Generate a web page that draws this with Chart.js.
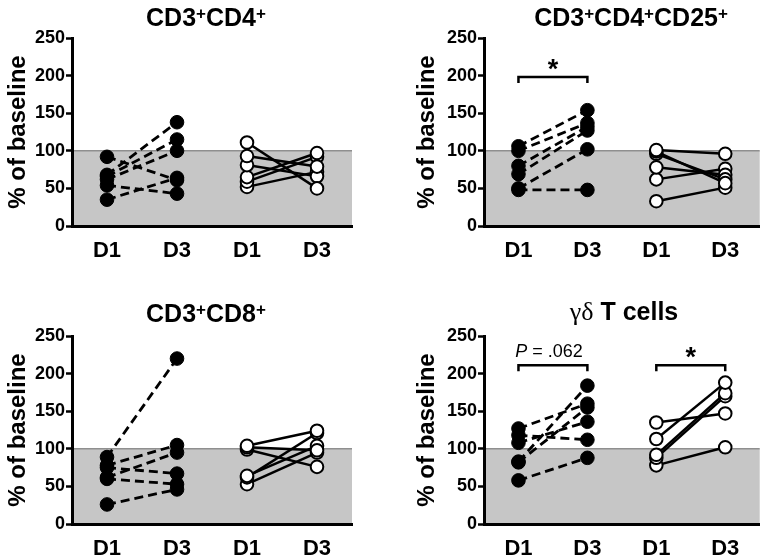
<!DOCTYPE html>
<html>
<head>
<meta charset="utf-8">
<script src="https://cdn.jsdelivr.net/npm/chart.js@4.4.1/dist/chart.umd.min.js"></script>
<style>
  html, body { margin: 0; padding: 0; background: #fff; }
  #wrap { position: relative; width: 768px; height: 559px; overflow: hidden; }
  #wrap canvas { position: absolute; }
</style>
</head>
<body>
<div id="wrap">
  <canvas id="p1" width="384" height="280"></canvas>
  <canvas id="p2" width="384" height="280"></canvas>
  <canvas id="p3" width="384" height="279"></canvas>
  <canvas id="p4" width="384" height="279"></canvas>
</div>
<script>
// ---- donnees (% of baseline, paires D1 -> D3) ----
const jours = ['D1', 'D3', 'D1', 'D3'];
const titres = ['CD3⁺CD4⁺', 'CD3⁺CD4⁺CD25⁺', 'CD3⁺CD8⁺', 'γδ T cells'];
const titreAxeY = '% of baseline';
const ticksY = [0, 50, 100, 150, 200, 250];
const ligneBase = 100;

// groupe plein (pointilles) et groupe vide (trait plein)
const cd4Plein  = [[92, 61], [68, 138], [66, 115], [62, 100], [54, 43], [35, 64]];
const cd4Vide   = [[111, 50], [93, 79], [81, 66], [65, 97], [59, 92], [52, 72]];
const cd25Plein = [[106, 154], [100, 137], [80, 132], [69, 127], [50, 102], [48, 48]];
const cd25Vide  = [[101, 96], [99, 57], [96, 62], [78, 68], [62, 76], [33, 51]];
const cd8Plein  = [[89, 220], [78, 105], [62, 95], [75, 67], [60, 53], [26, 46]];
const cd8Vide   = [[104, 124], [102, 98], [99, 76], [64, 104], [62, 121], [53, 95]];
const gdPlein   = [[127, 160], [118, 112], [108, 136], [83, 184], [82, 155], [58, 88]];
const gdVide    = [[135, 147], [113, 188], [92, 174], [88, 170], [78, 102]];

// crochets de significativite : indices des jours, niveau y, texte
const crochetsCd25 = [{ de: 0, a: 1, y: 198, texte: '*' }];
const crochetsGd   = [{ de: 0, a: 1, y: 211, texte: 'P = .062' }, { de: 2, a: 3, y: 211, texte: '*' }];

const SANS  = '"Liberation Sans", Arial, Helvetica, sans-serif';
const SERIF = '"Liberation Serif", "Times New Roman", serif';

const panneaux = [
    { id: 'p1', left: 0,   top: 0,   titre: titres[0], plein: cd4Plein,  vide: cd4Vide,  crochets: [],
      axeW: 72,  padTop: 38, padRight: 32, xH: 54, padTitreY: 6,  titreX: 206, titreY: 17 },
    { id: 'p2', left: 384, top: 0,   titre: titres[1], plein: cd25Plein, vide: cd25Vide, crochets: crochetsCd25,
      axeW: 100, padTop: 38, padRight: 3,  xH: 54, padTitreY: 31, titreX: 247, titreY: 17 },
    { id: 'p3', left: 0,   top: 280, titre: titres[2], plein: cd8Plein,  vide: cd8Vide,  crochets: [],
      axeW: 72,  padTop: 56, padRight: 32, xH: 35, padTitreY: 6,  titreX: 206, titreY: 33 },
    { id: 'p4', left: 384, top: 280, titre: titres[3], plein: gdPlein,   vide: gdVide,   crochets: crochetsGd,
      axeW: 100, padTop: 56, padRight: 3,  xH: 35, padTitreY: 31, titreX: 240, titreY: 31 },
];

/**
 * Dessine un titre avec exposants (⁺) et lettres grecques en serif.
 */
function dessinerTitre(ctx, texte, cx, cy) {
    const runs = [];
    for (const ch of texte) {
        const type = ch === '⁺' ? 'sup' : (/[γδ]/.test(ch) ? 'grec' : 'norm');
        const c = ch === '⁺' ? '+' : ch;
        const dernier = runs[runs.length - 1];
        if (dernier && dernier.type === type) dernier.t += c;
        else runs.push({ type, t: c });
    }
    const polices = {
        norm: 'bold 25px ' + SANS,
        sup:  'bold 17px ' + SANS,
        grec: '26px ' + SERIF,
    };
    ctx.save();
    let total = 0;
    runs.forEach(r => { ctx.font = polices[r.type]; r.w = ctx.measureText(r.t).width; total += r.w; });
    let x = cx - total / 2;
    const base = cy + 9;
    ctx.fillStyle = '#000';
    ctx.textBaseline = 'alphabetic';
    ctx.textAlign = 'left';
    runs.forEach(r => {
        ctx.font = polices[r.type];
        ctx.fillText(r.t, x, r.type === 'sup' ? base - 7 : base);
        x += r.w;
    });
    ctx.restore();
}

// zone grise 0-100 + ligne de reference, dessinee avant les axes
const pluginFond = {
    id: 'fond',
    beforeDraw(chart) {
        const { ctx, chartArea: a, scales: { y } } = chart;
        const y100 = y.getPixelForValue(ligneBase);
        ctx.save();
        ctx.fillStyle = '#c6c6c6';
        ctx.fillRect(a.left, y100, a.right - a.left, a.bottom - y100);
        ctx.strokeStyle = '#8f8f8f';
        ctx.lineWidth = 1.5;
        ctx.beginPath();
        ctx.moveTo(a.left, y100);
        ctx.lineTo(a.right, y100);
        ctx.stroke();
        ctx.restore();
    }
};

// titre + crochets de significativite
const pluginTextes = {
    id: 'textes',
    afterDraw(chart, args, opts) {
        const { ctx, scales: { x, y } } = chart;
        dessinerTitre(ctx, opts.titre, opts.titreX, opts.titreY);

        (opts.crochets || []).forEach(c => {
            const x0 = x.getPixelForTick(c.de);
            const x1 = x.getPixelForTick(c.a);
            const yy = y.getPixelForValue(c.y);
            ctx.save();
            ctx.strokeStyle = '#000';
            ctx.lineWidth = 2.5;
            ctx.beginPath();
            ctx.moveTo(x0, yy + 6);
            ctx.lineTo(x0, yy);
            ctx.lineTo(x1, yy);
            ctx.lineTo(x1, yy + 6);
            ctx.stroke();

            ctx.fillStyle = '#000';
            ctx.textBaseline = 'alphabetic';
            const mx = (x0 + x1) / 2;
            if (c.texte === '*') {
                ctx.font = 'bold 27px ' + SANS;
                ctx.textAlign = 'center';
                ctx.fillText('*', mx, yy + 1);
            } else {
                // premier caractere en italique (P)
                const tete = c.texte.charAt(0);
                const reste = c.texte.slice(1);
                ctx.font = 'italic 18px ' + SANS;
                const w1 = ctx.measureText(tete).width;
                ctx.font = '18px ' + SANS;
                const w2 = ctx.measureText(reste).width;
                let sx = mx - (w1 + w2) / 2 - 4;
                ctx.textAlign = 'left';
                ctx.font = 'italic 18px ' + SANS;
                ctx.fillText(tete, sx, yy - 8);
                ctx.font = '18px ' + SANS;
                ctx.fillText(reste, sx + w1, yy - 8);
            }
            ctx.restore();
        });
    }
};

function creerPanneau(p) {
    const canvas = document.getElementById(p.id);
    canvas.style.left = p.left + 'px';
    canvas.style.top = p.top + 'px';

    const jeux = [];
    p.plein.forEach(v => jeux.push({
        data: [v[0], v[1], null, null],
        borderColor: '#000',
        borderWidth: 2.8,
        borderDash: [9, 5],
        pointRadius: 6.8,
        pointBackgroundColor: '#000',
        pointBorderColor: '#000',
        pointBorderWidth: 1,
        spanGaps: false,
        clip: false,
    }));
    p.vide.forEach(v => jeux.push({
        data: [null, null, v[0], v[1]],
        borderColor: '#000',
        borderWidth: 2.5,
        pointRadius: 6.3,
        pointBackgroundColor: '#fff',
        pointBorderColor: '#000',
        pointBorderWidth: 2,
        spanGaps: false,
        clip: false,
    }));

    return new Chart(canvas.getContext('2d'), {
        type: 'line',
        data: { labels: jours, datasets: jeux },
        plugins: [pluginFond, pluginTextes],
        options: {
            responsive: false,
            animation: false,
            devicePixelRatio: 1,
            events: [],
            layout: { padding: { top: p.padTop, right: p.padRight, left: 0, bottom: 0 } },
            elements: { line: { tension: 0 } },
            plugins: {
                legend: { display: false },
                tooltip: { enabled: false },
                textes: { titre: p.titre, titreX: p.titreX, titreY: p.titreY, crochets: p.crochets },
            },
            scales: {
                x: {
                    type: 'category',
                    offset: true,
                    grid: { drawOnChartArea: false, drawTicks: false },
                    border: { display: true, color: '#000', width: 3 },
                    ticks: { color: '#000', font: { family: SANS, size: 22, weight: 'bold' }, padding: 12 },
                    afterFit: s => { s.height = p.xH; },
                },
                y: {
                    min: 0,
                    max: 250,
                    afterBuildTicks: s => { s.ticks = ticksY.map(v => ({ value: v })); },
                    grid: { drawOnChartArea: false, drawTicks: true, tickLength: 6, tickWidth: 2.5, tickColor: '#000' },
                    border: { color: '#000', width: 3 },
                    ticks: { color: '#000', font: { family: SANS, size: 18, weight: 'bold' }, padding: 1 },
                    title: {
                        display: true,
                        text: titreAxeY,
                        color: '#000',
                        font: { family: SANS, size: 24, weight: 'bold', lineHeight: 1 },
                        padding: { top: p.padTitreY, bottom: 0 },
                    },
                    afterFit: s => { s.width = p.axeW; },
                },
            },
        },
    });
}

panneaux.forEach(creerPanneau);
</script>
</body>
</html>
